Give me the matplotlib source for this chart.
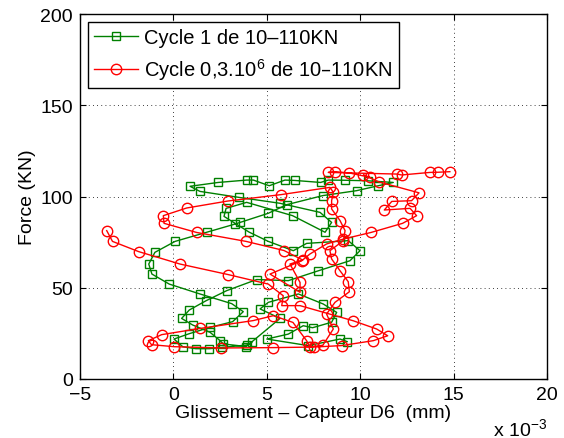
import matplotlib
matplotlib.use('Agg')
import matplotlib.pyplot as plt

plt.rcParams['font.family'] = ['Liberation Sans', 'DejaVu Sans']
plt.rcParams['mathtext.default'] = 'regular'

# slip values are in mm x 1e-3, force in KN
cycle1_x = [4.19, 3.92, 2.60, 1.92, 1.20, 0.50, 0.03, 0.84, 1.96, 3.17, 3.74, 3.12, 1.42, -0.22,
            -1.15, -1.32, -0.99, 0.09, 1.78, 3.30, 3.57, 5.08, 6.06, 8.00, 9.81, 10.97, 11.77,
            10.40, 9.20, 8.29, 7.88, 6.50, 5.97, 5.13, 4.28, 3.92, 2.40, 0.89, 1.42,
            3.52, 5.70, 7.85, 8.47, 8.12, 6.38, 3.92, 2.82, 2.71, 4.05, 5.08, 6.42, 7.13, 9.36,
            9.99, 9.45, 7.76, 6.15, 4.46, 2.85, 1.75, 0.85, 0.44, 1.03, 1.96, 2.50, 2.67, 3.90,
            5.71, 4.64, 5.08, 6.69, 8.02, 8.74, 8.47, 7.45, 6.95, 6.15, 5.00, 7.22, 8.92, 9.30]
cycle1_y = [20.1, 18.6, 17.3, 16.6, 16.6, 17.7, 21.9, 24.8, 28.3, 31.4, 36.9, 41.3, 46.6, 52.0,
            57.5, 63.0, 69.4, 75.4, 80.4, 84.9, 85.8, 90.8, 95.5, 100.5, 103.2, 105.9, 107.7,
            108.6, 108.9, 109.0, 107.7, 108.8, 109.0, 105.9, 109.0, 109.0, 107.7, 105.6, 102.8,
            99.5, 96.3, 91.3, 85.8, 80.4, 89.5, 96.8, 93.5, 89.1, 80.5, 75.4, 70.3, 74.3, 75.8,
            70.3, 64.8, 59.3, 53.9, 54.5, 48.4, 42.9, 37.8, 33.2, 29.6, 25.6, 21.0, 19.2, 17.8,
            33.2, 38.4, 42.0, 46.6, 41.1, 36.5, 31.1, 28.1, 29.2, 24.6, 21.9, 18.3, 21.9, 20.5]

cycle03_x = [-3.57, -3.26, -1.86, 0.35, 2.94, 5.08, 5.88, 5.80, 6.78, 9.63, 10.88, 11.47, 10.70,
             9.00, 7.50, 5.35, 2.55, 0.05, -1.17, -1.34, -0.63, 1.42, 4.27, 5.35, 6.40, 7.13,
             7.30, 8.00, 8.56, 8.20, 8.65, 9.42, 9.36, 8.92, 8.47, 8.38, 9.10, 9.19, 8.92, 8.47,
             8.47, 8.56, 8.38, 5.74, 2.90, 0.71, -0.54, -0.50, 1.24, 3.89, 5.92, 6.92, 6.24,
             6.78, 6.78, 5.17, 6.87, 7.31, 8.20, 9.10, 10.58, 12.27, 13.02, 12.67, 11.29, 11.69,
             12.75, 13.15, 11.00, 10.17, 10.52, 9.42, 8.65, 8.29, 11.95, 12.22, 13.74, 14.18, 14.80]
cycle03_y = [81.3, 75.4, 69.8, 63.0, 57.2, 52.0, 45.6, 40.2, 40.2, 31.9, 27.4, 23.7, 21.0,
             18.3, 17.5, 17.2, 17.0, 17.7, 18.8, 21.0, 24.3, 27.7, 32.0, 34.7, 31.0, 21.0,
             17.6, 18.5, 27.4, 35.6, 42.0, 47.8, 53.3, 59.3, 65.8, 70.3, 75.8, 81.3, 86.8, 93.2,
             97.7, 102.3, 105.0, 101.0, 97.5, 93.7, 89.5, 85.3, 80.3, 75.4, 70.4, 65.2, 63.0,
             52.9, 47.5, 57.5, 64.8, 68.5, 74.0, 76.7, 80.3, 85.3, 89.5, 93.5, 92.6, 97.3,
             97.7, 102.0, 108.0, 111.8, 110.5, 112.9, 113.6, 113.2, 112.3, 111.8, 113.2, 113.3, 113.6]

labels = ['Cycle 1 de 10\u2013110KN', 'Cycle 0,3.10$^{6}$ de 10\u2013110KN']

fs = 14

fig = plt.figure(figsize=(5.64, 4.39), dpi=100)
ax = fig.add_axes([80 / 564, 1 - 380 / 439, 467 / 564, 365 / 439])

ax.plot(cycle1_x, cycle1_y, color='#008000', lw=1.0, marker='s', ms=5.5,
        mfc='none', mec='#008000', mew=1.0, label=labels[0])
ax.plot(cycle03_x, cycle03_y, color='red', lw=1.0, marker='o', ms=7.5,
        mfc='none', mec='red', mew=1.0, label=labels[1])

ax.set_xlim(-5, 20)
ax.set_ylim(0, 200)
ax.set_xticks([-5, 0, 5, 10, 15, 20])
ax.set_yticks([0, 50, 100, 150, 200])
ax.tick_params(direction='in', labelsize=fs, length=4, top=True, right=True, pad=5)
ax.grid(True, color='black', linestyle=(0, (1, 4)), linewidth=0.6)
for s in ax.spines.values():
    s.set_linewidth(1.0)

ax.set_xlabel('Glissement \u2013 Capteur D6  (mm)', fontsize=fs, labelpad=1)
ax.set_ylabel('Force (KN)', fontsize=fs, labelpad=3)
ax.text(0.885, -0.135, 'x 10$^{-3}$', transform=ax.transAxes, fontsize=fs,
        ha='left', va='center')

leg = ax.legend(loc='upper left', fontsize=14.5, numpoints=1, handlelength=2.2,
                handletextpad=0.3, fancybox=False, framealpha=1, edgecolor='black',
                borderaxespad=0.4, borderpad=0.3, labelspacing=0.45)
leg.get_frame().set_linewidth(1.0)

fig.savefig('out.png', dpi=100)
